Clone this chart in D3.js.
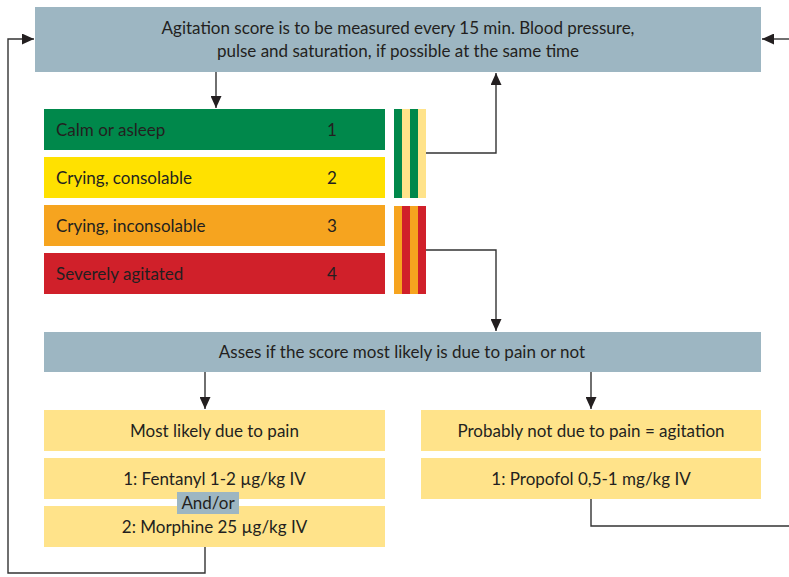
<!DOCTYPE html>
<html>
<head>
<meta charset="utf-8">
<script src="https://cdn.jsdelivr.net/npm/d3@7"></script>
<style>
  body { margin: 0; background: #fff; }
  svg text { font-family: Lato, 'Open Sans', sans-serif; fill: #231f20; }
</style>
</head>
<body>
<svg width="789" height="577"></svg>
<script>
const SCORE_LABELS = ['Calm or asleep', 'Crying, consolable', 'Crying, inconsolable', 'Severely agitated']
const SCORE_VALUES = [1, 2, 3, 4]
const SCORE_COLORS = ['#00884b', '#ffe100', '#f6a41f', '#d0202a']
const STRIPES_LOW = ['#00884b', '#ffe38a', '#00884b', '#ffe38a']
const STRIPES_HIGH = ['#f6a41f', '#d0202a', '#f6a41f', '#d0202a']
const TOP_TEXT = ['Agitation score is to be measured every 15 min. Blood pressure,', 'pulse and saturation, if possible at the same time']
const ASSESS_TEXT = 'Asses if the score most likely is due to pain or not'
const PAIN_BOXES = ['Most likely due to pain', '1: Fentanyl 1-2 \u00b5g/kg IV', '2: Morphine 25 \u00b5g/kg IV']
const AGITATION_BOXES = ['Probably not due to pain = agitation', '1: Propofol 0,5-1 mg/kg IV']

const BLUE = '#9db6c2'
const PALE = '#ffe38a'
const INK = '#333'
const FS = 17

const svg = d3.select('svg')

svg.append('defs').append('marker')
  .attr('id', 'arrow')
  .attr('viewBox', '0 0 10 10')
  .attr('refX', 10).attr('refY', 5)
  .attr('markerWidth', 12).attr('markerHeight', 11)
  .attr('markerUnits', 'userSpaceOnUse')
  .attr('orient', 'auto')
  .attr('preserveAspectRatio', 'none')
  .append('path')
  .attr('d', 'M0,0 L10,5 L0,10 Z')
  .attr('fill', '#231f20')

const lines = svg.append('g')
const line = d3.line()

function connector (pts, arrow) {
  lines.append('path')
    .attr('d', line(pts))
    .attr('fill', 'none')
    .attr('stroke', INK)
    .attr('stroke-width', 1.4)
    .attr('marker-end', arrow ? 'url(#arrow)' : null)
}

// top box
svg.append('rect').attr('x', 35).attr('y', 7).attr('width', 726).attr('height', 65).attr('fill', BLUE)
svg.append('g').selectAll('text').data(TOP_TEXT).enter().append('text')
  .attr('x', 398).attr('y', (d, i) => 34 + i * 23)
  .attr('text-anchor', 'middle').attr('font-size', FS)
  .text(d => d)

// score rows
const rowY = d3.scaleBand().domain(SCORE_VALUES).range([109, 294]).paddingInner(7 / 48).paddingOuter(0)
const rows = svg.append('g').selectAll('g').data(SCORE_VALUES).enter().append('g')
  .attr('transform', d => `translate(0,${rowY(d)})`)
rows.append('rect').attr('x', 44).attr('width', 341).attr('height', rowY.bandwidth())
  .attr('fill', (d, i) => SCORE_COLORS[i])
rows.append('text').attr('x', 56).attr('y', rowY.bandwidth() / 2 + 6).attr('font-size', FS)
  .text((d, i) => SCORE_LABELS[i])
rows.append('text').attr('x', 332).attr('y', rowY.bandwidth() / 2 + 6).attr('font-size', FS)
  .attr('text-anchor', 'middle').text(d => d)

// stripe blocks
const stripeX = d3.scaleBand().domain(d3.range(4)).range([394, 426])
function stripes (colors, y0, y1) {
  svg.append('g').selectAll('rect').data(colors).enter().append('rect')
    .attr('x', (d, i) => stripeX(i)).attr('y', y0)
    .attr('width', stripeX.bandwidth()).attr('height', y1 - y0)
    .attr('fill', d => d)
}
stripes(STRIPES_LOW, 109, 198)
stripes(STRIPES_HIGH, 206, 294)

// assess box
svg.append('rect').attr('x', 44).attr('y', 332).attr('width', 717).attr('height', 40).attr('fill', BLUE)
svg.append('text').attr('x', 402).attr('y', 358).attr('text-anchor', 'middle').attr('font-size', FS).text(ASSESS_TEXT)

// treatment boxes
const boxY = d3.scaleBand().domain(d3.range(3)).range([410, 547]).paddingInner(7 / 48).paddingOuter(0)
function column (items, x0, x1) {
  const g = svg.append('g').selectAll('g').data(items).enter().append('g')
    .attr('transform', (d, i) => `translate(0,${boxY(i)})`)
  g.append('rect').attr('x', x0).attr('width', x1 - x0).attr('height', boxY.bandwidth()).attr('fill', PALE)
  g.append('text').attr('x', (x0 + x1) / 2).attr('y', boxY.bandwidth() / 2 + 6)
    .attr('text-anchor', 'middle').attr('font-size', FS).text(d => d)
}
column(PAIN_BOXES, 44, 385)
column(AGITATION_BOXES, 421, 761)

// and/or tag
svg.append('rect').attr('x', 177).attr('y', 492).attr('width', 62).attr('height', 22).attr('fill', BLUE)
svg.append('text').attr('x', 208).attr('y', 509).attr('text-anchor', 'middle').attr('font-size', FS).text('And/or')

// connectors
connector([[216, 72], [216, 108]], true)
connector([[426, 153], [496, 153], [496, 73]], true)
connector([[426, 250], [496, 250], [496, 331]], true)
connector([[205, 372], [205, 409]], true)
connector([[591, 372], [591, 409]], true)
connector([[205, 547], [205, 573], [8, 573], [8, 39], [34, 39]], true)
connector([[591, 499], [591, 526], [789, 526]], false)
connector([[789, 39], [762, 39]], true)
</script>
</body>
</html>
